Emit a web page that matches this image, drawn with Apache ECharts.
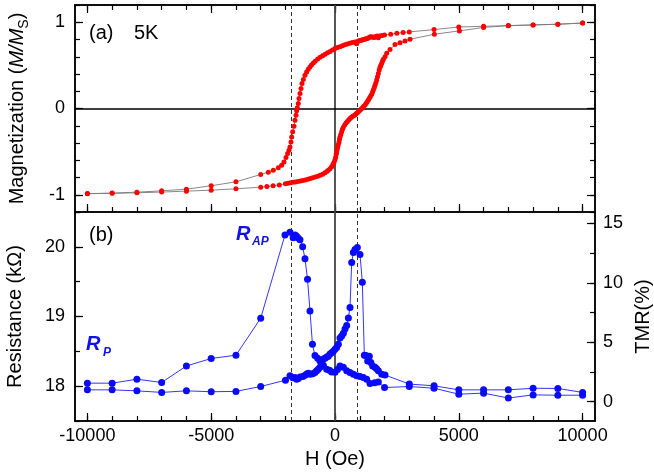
<!DOCTYPE html>
<html>
<head>
<meta charset="utf-8">
<script src="https://cdn.jsdelivr.net/npm/echarts@6/dist/echarts.min.js"></script>
<style>
html,body{margin:0;padding:0;background:#fff;}
#chart{width:654px;height:476px;}
</style>
</head>
<body>
<div id="chart"></div>
<script>
// ---------- DATA ----------
// (a) Magnetization loop, field swept from +10 kOe to -10 kOe
const H_TOP_DESC = [10000,9000,8000,7000,6000,5000,4000,3000,2750,2500,2250,2000,1900,1800,1750,1700,1650,1600,1550,1500,1450,1400,1350,1300,1250,1200,1150,1100,1050,1000,950,900,876,850,800,700,600,500,400,300,200,100,0,-100,-200,-300,-400,-500,-600,-700,-800,-876,-950,-1010,-1080,-1145,-1212,-1279,-1333,-1373,-1414,-1454,-1482,-1523,-1548,-1575,-1616,-1656,-1710,-1750,-1778,-1818,-1858,-1912,-1980,-2060,-2155,-2290,-2492,-2694,-3000,-4000,-5000,-6000,-7000,-8000,-9000,-10000];
const M_TOP_DESC = [0.992,0.977,0.969,0.961,0.953,0.945,0.915,0.888,0.881,0.872,0.862,0.851,0.846,0.841,0.820,0.840,0.834,0.824,0.830,0.826,0.832,0.828,0.816,0.812,0.808,0.803,0.799,0.795,0.791,0.787,0.782,0.773,0.752,0.768,0.770,0.764,0.757,0.749,0.740,0.728,0.717,0.706,0.695,0.678,0.662,0.646,0.630,0.613,0.594,0.573,0.548,0.528,0.505,0.482,0.455,0.424,0.386,0.336,0.290,0.232,0.174,0.116,0.058,0.010,-0.025,-0.078,-0.136,-0.205,-0.271,-0.329,-0.387,-0.445,-0.483,-0.522,-0.568,-0.619,-0.657,-0.688,-0.715,-0.738,-0.765,-0.850,-0.896,-0.935,-0.955,-0.970,-0.981,-0.989];
// (a) field swept from -10 kOe to +10 kOe
const H_TOP_ASC = [-10000,-9000,-8000,-7000,-6000,-5000,-4000,-3000,-2750,-2500,-2250,-2000,-1900,-1800,-1700,-1600,-1500,-1400,-1300,-1200,-1100,-1000,-900,-800,-700,-600,-500,-404,-330,-270,-200,-135,-85,-40,0,27,50,67,88,108,135,162,185,202,235,270,300,337,390,444,500,550,606,650,700,750,808,850,900,950,1010,1060,1110,1160,1212,1260,1300,1347,1387,1430,1482,1516,1549,1583,1616,1650,1684,1717,1750,1784,1818,1850,1886,1920,1953,2020,2088,2222,2424,2626,2828,3030,4012,5023,6000,7000,8000,9000,10000];
const M_TOP_ASC = [-0.986,-0.983,-0.977,-0.969,-0.958,-0.947,-0.931,-0.912,-0.905,-0.897,-0.887,-0.873,-0.866,-0.861,-0.856,-0.852,-0.846,-0.840,-0.835,-0.828,-0.820,-0.812,-0.804,-0.795,-0.785,-0.775,-0.762,-0.746,-0.730,-0.715,-0.698,-0.676,-0.650,-0.622,-0.595,-0.565,-0.530,-0.503,-0.475,-0.445,-0.418,-0.387,-0.355,-0.329,-0.300,-0.271,-0.242,-0.218,-0.190,-0.167,-0.150,-0.133,-0.116,-0.103,-0.093,-0.084,-0.074,-0.062,-0.050,-0.036,-0.020,-0.005,0.010,0.025,0.040,0.060,0.078,0.098,0.118,0.140,0.165,0.190,0.215,0.242,0.270,0.300,0.330,0.368,0.405,0.445,0.478,0.500,0.525,0.550,0.570,0.600,0.640,0.684,0.741,0.762,0.784,0.803,0.861,0.900,0.940,0.960,0.969,0.977,0.990];

// (b) Resistance, field swept from +10 kOe to -10 kOe
const H_RES_DESC = [10000,9000,8000,7000,6000,5000,4000,3000,2000,1750,1600,1414,1280,1145,1010,876,741,606,472,337,202,100,0,-135,-220,-337,-470,-606,-700,-808,-910,-1010,-1110,-1212,-1306,-1414,-1500,-1560,-1616,-1690,-1818,-2020,-3000,-4000,-5000,-6000,-7000,-8000,-9000,-10000];
const R_RES_DESC = [17.87,17.87,17.875,17.83,17.90,17.885,17.97,17.995,17.98,18.06,18.05,18.04,18.10,18.125,18.14,18.15,18.17,18.197,18.22,18.27,18.29,18.24,18.20,18.205,18.23,18.244,18.30,18.36,18.40,18.44,18.60,19.08,19.535,19.83,20.00,20.10,20.13,20.156,20.17,20.13,20.21,20.17,18.976,18.445,18.397,18.29,18.053,18.10,18.043,18.043];
// (b) field swept from -10 kOe to +10 kOe
const H_RES_ASC = [-10000,-9000,-8000,-7000,-6000,-5000,-4000,-3000,-2000,-1818,-1700,-1616,-1550,-1482,-1414,-1300,-1212,-1140,-1077,-1000,-900,-808,-740,-674,-606,-540,-472,-404,-335,-270,-202,-135,-67,0,67,135,202,270,337,404,472,540,606,674,741,808,902,1010,1104,1185,1250,1320,1387,1450,1520,1616,1680,1750,1886,2020,3000,4000,5000,6000,7000,8000,9000,10000];
const R_RES_ASC = [17.947,17.947,17.933,17.91,17.933,17.92,17.925,17.995,18.086,18.148,18.12,18.125,18.10,18.11,18.13,18.14,18.158,18.175,18.187,18.17,18.18,18.197,18.22,18.244,18.27,18.33,18.39,18.40,18.42,18.43,18.46,18.48,18.50,18.53,18.555,18.60,18.69,18.72,18.76,18.82,18.87,18.98,19.13,19.775,19.92,19.96,19.99,19.89,19.49,18.445,18.44,18.36,18.43,18.34,18.29,18.27,18.25,18.22,18.17,18.16,18.03,18.005,17.947,17.947,17.947,17.97,17.967,17.91];

// ticks / labels
const X_MAJOR = [-10000,-5000,0,5000,10000];
const X_MINOR = [-10000,-9000,-8000,-7000,-6000,-5000,-4000,-3000,-2000,-1000,0,1000,2000,3000,4000,5000,6000,7000,8000,9000,10000];
const M_MAJOR = [-1,0,1];
const M_MINOR = [-1.2,-1,-0.8,-0.6,-0.4,-0.2,0,0.2,0.4,0.6,0.8,1,1.2];
const R_MAJOR = [18,19,20];
const R_MINOR = [17.5,18,18.5,19,19.5,20,20.5];
const TMR_MAJOR = [0,5,10,15];
const TMR_MINOR = [0,2.5,5,7.5,10,12.5,15];
const DASHED_H = [-1750,880];

const zip = (a,b)=>a.map((v,i)=>[v,b[i]]);
const plain = v => String(v);

// ---------- CHART ----------
const FONT = 'Liberation Sans, Arial, sans-serif';
const chart = echarts.init(document.getElementById('chart'), null, {renderer:'canvas'});
const AX = {color:'#000', width:1.5};
function xAx(grid, pos, ticks, len, opts){
  return Object.assign({
    type:'value', gridIndex:grid, position:pos, min:-10500, max:10500,
    axisLine:{show:true, onZero:false, lineStyle:AX},
    axisTick:{show:true, inside:true, length:len, customValues:ticks, lineStyle:{color:'#000',width:1.2}},
    axisLabel:{show:false}, splitLine:{show:false}
  }, opts||{});
}
function yAx(grid, pos, min, max, ticks, len, opts){
  return Object.assign({
    type:'value', gridIndex:grid, position:pos, min:min, max:max,
    axisLine:{show:true, onZero:false, lineStyle:AX},
    axisTick:{show:true, inside:true, length:len, customValues:ticks, lineStyle:{color:'#000',width:1.2}},
    axisLabel:{show:false}, splitLine:{show:false}
  }, opts||{});
}
const LBL = {show:true, fontFamily:FONT, fontSize:18, color:'#000', formatter:plain};
const NAME = {fontFamily:FONT, fontSize:20, color:'#000'};

const option = {
  animation:false,
  backgroundColor:'#fff',
  grid:[
    {left:75, right:59, top:5, height:207, containLabel:false, outerBoundsMode:'none'},
    {left:75, right:59, top:212, height:209, containLabel:false, outerBoundsMode:'none'}
  ],
  xAxis:[
    xAx(0,'bottom',X_MAJOR,8),
    xAx(0,'bottom',X_MINOR,5),
    xAx(0,'top',X_MAJOR,8),
    xAx(0,'top',X_MINOR,5),
    xAx(1,'bottom',X_MAJOR,8,{
      axisLabel:Object.assign({}, LBL, {customValues:X_MAJOR, margin:6}),
      name:'H (Oe)', nameLocation:'middle', nameGap:28, nameTextStyle:NAME
    }),
    xAx(1,'bottom',X_MINOR,5)
  ],
  yAxis:[
    yAx(0,'left',-1.2,1.2,M_MAJOR,8,{
      axisLabel:Object.assign({}, LBL, {customValues:M_MAJOR, margin:10}),
      name:'Magnetization ({i|M/M}{s|S})', nameLocation:'middle', nameGap:44, nameRotate:90,
      nameTextStyle:Object.assign({}, NAME, {rich:{
        i:{fontFamily:FONT, fontSize:20, fontStyle:'italic', color:'#000'},
        s:{fontFamily:FONT, fontSize:14, color:'#000', verticalAlign:'bottom', lineHeight:28}
      }})
    }),
    yAx(0,'left',-1.2,1.2,M_MINOR,5),
    yAx(0,'right',-1.2,1.2,M_MAJOR,8),
    yAx(0,'right',-1.2,1.2,M_MINOR,5),
    yAx(1,'left',17.5,20.5,R_MAJOR,8,{
      axisLabel:Object.assign({}, LBL, {customValues:R_MAJOR, margin:10}),
      name:'Resistance (k\u03A9)', nameLocation:'middle', nameGap:50, nameRotate:90, nameTextStyle:NAME
    }),
    yAx(1,'left',17.5,20.5,R_MINOR,5),
    yAx(1,'right',-1.623,15.95,TMR_MAJOR,8,{
      axisLabel:Object.assign({}, LBL, {customValues:TMR_MAJOR, margin:8}),
      name:'TMR(%)', nameLocation:'middle', nameGap:34, nameRotate:90, nameTextStyle:NAME
    }),
    yAx(1,'right',-1.623,15.95,TMR_MINOR,5)
  ],
  series:[
    {
      type:'line', xAxisIndex:0, yAxisIndex:0, data:zip(H_TOP_DESC,M_TOP_DESC),
      symbol:'circle', symbolSize:5, lineStyle:{color:'#7a7a7a', width:0.9},
      itemStyle:{color:'#ff0000'}, z:3,
      markLine:{
        silent:true, symbol:'none', label:{show:false}, z:2,
        data:[
          {xAxis:DASHED_H[0], lineStyle:{color:'#333', width:1, type:[4,3]}},
          {xAxis:DASHED_H[1], lineStyle:{color:'#333', width:1, type:[4,3]}},
          {xAxis:0, lineStyle:{color:'#444', width:1.8, type:'solid'}},
          {yAxis:0, lineStyle:{color:'#000', width:1.5, type:'solid'}}
        ]
      }
    },
    {
      type:'line', xAxisIndex:0, yAxisIndex:0, data:zip(H_TOP_ASC,M_TOP_ASC),
      symbol:'circle', symbolSize:5, lineStyle:{color:'#7a7a7a', width:0.9},
      itemStyle:{color:'#ff0000'}, z:3
    },
    {
      type:'line', xAxisIndex:4, yAxisIndex:4, data:zip(H_RES_DESC,R_RES_DESC),
      symbol:'circle', symbolSize:7, lineStyle:{color:'#3535ff', width:1},
      itemStyle:{color:'#0a0aff'}, z:3,
      markLine:{
        silent:true, symbol:'none', label:{show:false}, z:2,
        data:[
          {xAxis:DASHED_H[0], lineStyle:{color:'#333', width:1, type:[4,3]}},
          {xAxis:DASHED_H[1], lineStyle:{color:'#333', width:1, type:[4,3]}},
          {xAxis:0, lineStyle:{color:'#444', width:1.8, type:'solid'}}
        ]
      }
    },
    {
      type:'line', xAxisIndex:4, yAxisIndex:4, data:zip(H_RES_ASC,R_RES_ASC),
      symbol:'circle', symbolSize:7, lineStyle:{color:'#3535ff', width:1},
      itemStyle:{color:'#0a0aff'}, z:3
    }
  ],
  graphic:[
    {type:'text', left:89, top:23, style:{text:'(a)', font:'20px '+FONT, fill:'#000'}},
    {type:'text', left:134, top:23, style:{text:'5K', font:'20px '+FONT, fill:'#000'}},
    {type:'text', left:89, top:225, style:{text:'(b)', font:'20px '+FONT, fill:'#000'}},
    {type:'text', left:236, top:224, style:{text:'R', font:'italic bold 20px '+FONT, fill:'#1212e8'}},
    {type:'text', left:252, top:236, style:{text:'AP', font:'italic bold 12px '+FONT, fill:'#1212e8'}},
    {type:'text', left:86, top:334, style:{text:'R', font:'italic bold 20px '+FONT, fill:'#1212e8'}},
    {type:'text', left:103, top:347, style:{text:'P', font:'italic bold 12px '+FONT, fill:'#1212e8'}}
  ]
};
chart.setOption(option);
</script>
</body>
</html>
